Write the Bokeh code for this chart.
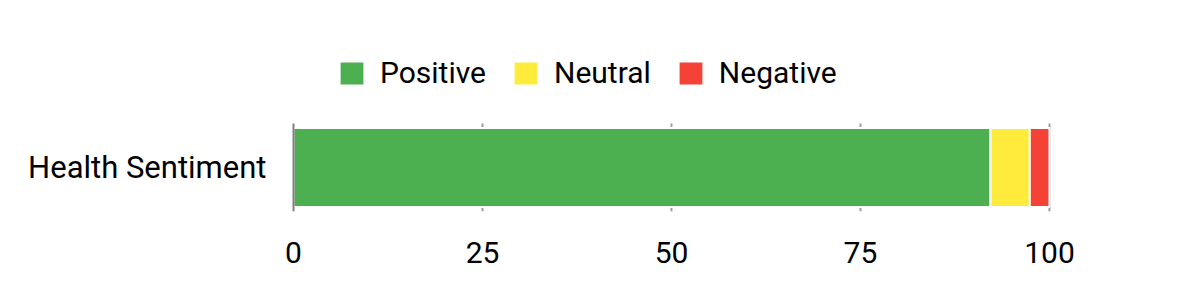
from bokeh.plotting import figure
from bokeh.models import Legend, LegendItem, Range1d, FixedTicker
from bokeh.embed import file_html
from bokeh.resources import INLINE

categories = ["Health Sentiment"]
series = ["Positive", "Neutral", "Negative"]
positive = [92.2]
neutral = [5.2]
negative = [2.6]
colors = ["#4CAF50", "#FFEB3B", "#F44336"]
ticks = [0, 25, 50, 75, 100]

ypos = list(range(len(categories)))
data = {"y": ypos, "Positive": positive, "Neutral": neutral, "Negative": negative}

p = figure(width=1200, height=300, y_range=Range1d(-0.5, 1.443),
           x_range=Range1d(-0.53, 100.4), output_backend="svg", toolbar_location=None,
           min_border_left=289, min_border_right=148, min_border_top=40, min_border_bottom=89)

p.outline_line_color = None
p.xgrid.grid_line_color = None
p.ygrid.grid_line_color = None

# grid lines limited to the category band
gt = ticks[1:]
p.segment(x0=gt, y0=[-0.5] * len(gt), x1=gt, y1=[0.5] * len(gt),
          line_color="#9e9e9e", line_width=2)

rs = p.hbar_stack(series, y="y", height=0.9, color=colors, line_color="white",
                  line_width=2, source=data)

# baseline at zero drawn over the bars
p.segment(x0=[ticks[0]], y0=[-0.5], x1=[ticks[0]], y1=[0.5],
          line_color="#808080", line_width=2)

p.xaxis.ticker = FixedTicker(ticks=ticks)
p.xaxis.axis_line_color = None
p.xaxis.major_tick_line_color = None
p.xaxis.minor_tick_line_color = None
p.xaxis.major_label_text_font = "Roboto"
p.xaxis.major_label_text_font_size = "30px"
p.xaxis.major_label_text_color = "#000000"
p.xaxis.major_label_standoff = 24

p.yaxis.ticker = FixedTicker(ticks=ypos)
p.yaxis.major_label_overrides = {i: c for i, c in zip(ypos, categories)}
p.yaxis.axis_line_color = None
p.yaxis.major_tick_line_color = None
p.yaxis.minor_tick_line_color = None
p.yaxis.major_label_text_font = "Roboto"
p.yaxis.major_label_text_font_size = "31px"
p.yaxis.major_label_text_color = "#000000"
p.yaxis.major_label_standoff = 17

items = [LegendItem(label=s, renderers=[r]) for s, r in zip(series, rs)]
legend = Legend(items=items, orientation="horizontal", location=(47, 121),
                label_text_font="Roboto", label_text_font_size="30px",
                label_text_color="#000000", glyph_width=31, glyph_height=30,
                label_height=30, label_standoff=13, spacing=24,
                border_line_color=None, background_fill_alpha=0,
                padding=0, margin=0)
p.add_layout(legend, "center")

html = file_html(p, INLINE)
open("out.html", "w").write(html)
